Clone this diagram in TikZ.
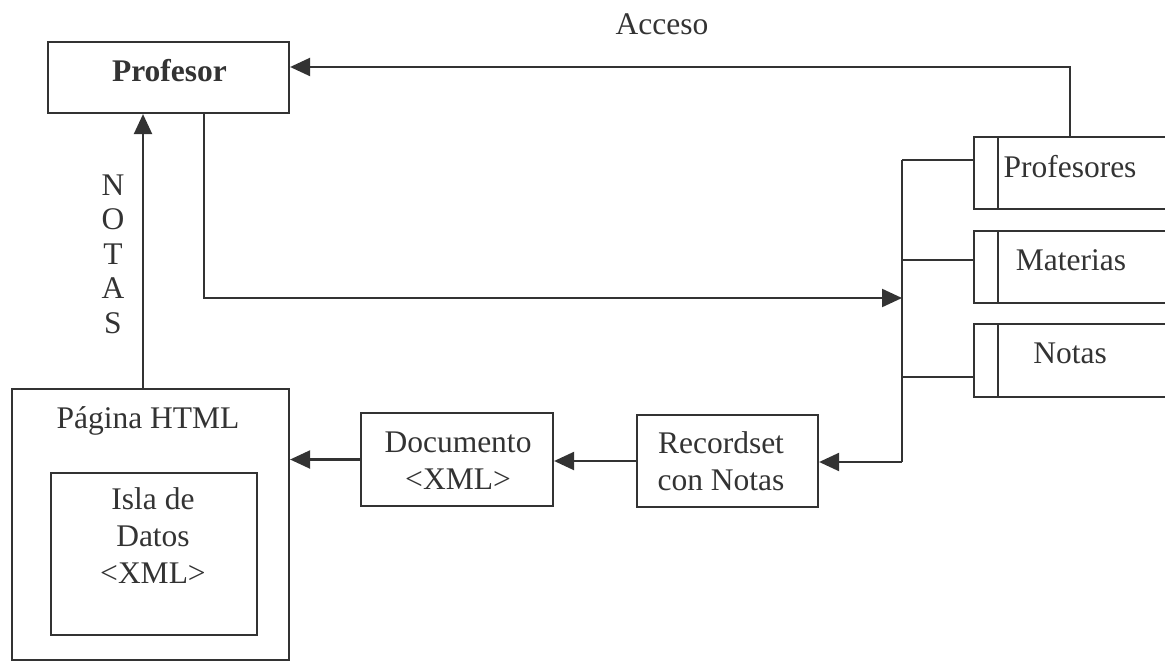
\documentclass[tikz,border=0pt]{standalone}
\usepackage{fontspec}
\setmainfont{Liberation Serif}
\usetikzlibrary{arrows.meta}
\definecolor{ink}{HTML}{333333}
\begin{document}
\begin{tikzpicture}[x=0.5pt,y=-0.5pt,
  color=ink,
  line width=1.1pt,
  box/.style={draw=ink, rectangle, inner sep=0pt, line width=1.1pt},
  tbl/.style={draw=ink, line width=1.1pt},
  txt/.style={inner sep=0pt, text=ink, font=\fontsize{15.75}{18.5}\selectfont},
  arr/.style={-{Triangle[length=10pt,width=9pt]}},
]
\useasboundingbox (0,0) rectangle (1165,663);

% main boxes
\node[box, minimum width=120.5pt, minimum height=35.5pt] (prof) at (168.5,77.5) {};
\node[txt, anchor=base, font=\fontsize{15.75}{18.5}\selectfont\bfseries] (proft) at (169.5,82) {Profesor};

\node[box, minimum width=138.5pt, minimum height=135.5pt] (pag) at (150.5,524.5) {};
\node[txt, anchor=base] (pagt) at (148,428) {Página HTML};
\node[box, minimum width=103pt, minimum height=81pt] (isla) at (154,554) {};
\node[txt, align=center] (islat) at (153,536) {Isla de\\Datos\\<XML>};

\node[box, minimum width=96pt, minimum height=46.5pt] (doc) at (457,459.5) {};
\node[txt, align=center] (doct) at (458,461) {Documento\\<XML>};
\node[box, minimum width=90.5pt, minimum height=46pt] (rec) at (727.5,461) {};
\node[txt, align=center] (rect) at (721,461) {Recordset\\con Notas};

% label texts
\node[txt, anchor=base] (acc) at (662,35) {Acceso};
\node[txt, align=center, font=\fontsize{15.75}{17.25}\selectfont] (notas) at (113,254) {N\\O\\T\\A\\S};

% tables (open to the right)
\coordinate (tP) at (974,137);
\coordinate (tM) at (974,231);
\coordinate (tN) at (974,324);
\draw[tbl] (1168,137) -- (tP) -- (974,209) -- (1168,209);
\draw[tbl] (998,137) -- (998,209);
\draw[tbl] (1168,231) -- (tM) -- (974,303) -- (1168,303);
\draw[tbl] (998,231) -- (998,303);
\draw[tbl] (1168,324) -- (tN) -- (974,397) -- (1168,397);
\draw[tbl] (998,324) -- (998,397);
\node[txt, anchor=base] (tPt) at (1070,177) {Profesores};
\node[txt, anchor=base] (tMt) at (1071,270) {Materias};
\node[txt, anchor=base] (tNt) at (1070,363) {Notas};

% bus and connectors
\coordinate (accY) at (700,67);
\coordinate (tPtop) at (1070,137);
\coordinate (nx) at (143,0);
\coordinate (px) at (204,0);
\coordinate (busTop) at (902,160);
\coordinate (busIn) at (902,298);
\coordinate (busBot) at (902,462);

\draw[arr] (tPtop) |- (prof.east |- accY);
\draw[arr] (pag.north -| nx) -- (prof.south -| nx);
\draw[arr] (prof.south -| px) |- (busIn);
\draw (busTop) -- (busBot);
\draw (busTop) -- (tP |- busTop);
\draw (busTop |- 0,260) -- (tM |- 0,260);
\draw (busTop |- 0,377) -- (tN |- 0,377);
\draw[arr] (busBot) -- (rec.east |- busBot);
\draw[arr] (rec.west) -- (rec.west -| doc.east);
\draw[arr] (doc.west) -- (doc.west -| pag.east);
\end{tikzpicture}
\end{document}
